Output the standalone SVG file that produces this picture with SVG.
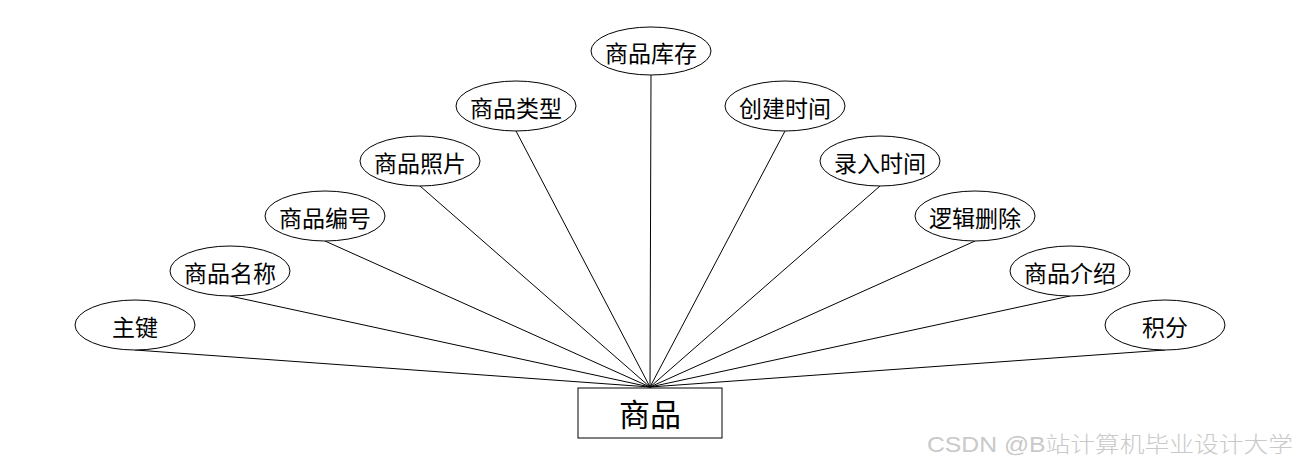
<svg xmlns="http://www.w3.org/2000/svg" width="1300" height="468" viewBox="0 0 1300 468">
<style>
.attr ellipse{fill:#fff;stroke:#000;stroke-width:1}
.attr text{font-family:"Noto Sans CJK SC","Microsoft YaHei",sans-serif;font-size:23px;font-weight:400;fill:#000;text-anchor:middle;dominant-baseline:central}
.conn line{stroke:#000;stroke-width:1}
.ent rect{fill:#fff;stroke:#000;stroke-width:1}
.ent text{font-family:"Noto Sans CJK SC",sans-serif;font-size:31px;font-weight:400;fill:#000;text-anchor:middle;dominant-baseline:central}
.wm{font-family:"Liberation Sans","Noto Sans CJK SC",sans-serif;font-size:22px;font-weight:300;fill:#c9c9c9}
</style>
<rect width="1300" height="468" fill="#fff"/>
<g id="connectors" class="conn">
<line x1="135" y1="350" x2="650" y2="387"/>
<line x1="230" y1="296" x2="650" y2="387"/>
<line x1="325" y1="241" x2="650" y2="387"/>
<line x1="420" y1="186" x2="650" y2="387"/>
<line x1="516" y1="131" x2="650" y2="387"/>
<line x1="651" y1="75" x2="650" y2="387"/>
<line x1="785" y1="131" x2="650" y2="387"/>
<line x1="880" y1="186" x2="650" y2="387"/>
<line x1="975" y1="241" x2="650" y2="387"/>
<line x1="1070" y1="296" x2="650" y2="387"/>
<line x1="1165" y1="350" x2="650" y2="387"/>
</g>
<g id="n-zhujian" class="attr"><ellipse cx="135" cy="325" rx="60" ry="25"/><text x="135" y="326">主键</text></g>
<g id="n-mingcheng" class="attr"><ellipse cx="230" cy="271" rx="60" ry="25"/><text x="230" y="272">商品名称</text></g>
<g id="n-bianhao" class="attr"><ellipse cx="325" cy="216" rx="60" ry="25"/><text x="325" y="217">商品编号</text></g>
<g id="n-zhaopian" class="attr"><ellipse cx="420" cy="161" rx="60" ry="25"/><text x="420" y="162">商品照片</text></g>
<g id="n-leixing" class="attr"><ellipse cx="516" cy="106" rx="60" ry="25"/><text x="516" y="107">商品类型</text></g>
<g id="n-kucun" class="attr"><ellipse cx="651" cy="51" rx="60" ry="24"/><text x="651" y="52">商品库存</text></g>
<g id="n-chuangjian" class="attr"><ellipse cx="785" cy="106" rx="60" ry="25"/><text x="785" y="107">创建时间</text></g>
<g id="n-luru" class="attr"><ellipse cx="880" cy="161" rx="60" ry="25"/><text x="880" y="162">录入时间</text></g>
<g id="n-shanchu" class="attr"><ellipse cx="975" cy="216" rx="60" ry="25"/><text x="975" y="217">逻辑删除</text></g>
<g id="n-jieshao" class="attr"><ellipse cx="1070" cy="271" rx="60" ry="25"/><text x="1070" y="272">商品介绍</text></g>
<g id="n-jifen" class="attr"><ellipse cx="1165" cy="325" rx="60" ry="25"/><text x="1165" y="326">积分</text></g>
<g id="n-shangpin" class="ent"><rect x="578" y="388" width="144" height="50"/><text x="650" y="412">商品</text></g>
<text class="wm" x="927" y="452" textLength="366" lengthAdjust="spacingAndGlyphs">CSDN @B站计算机毕业设计大学</text>
</svg>
